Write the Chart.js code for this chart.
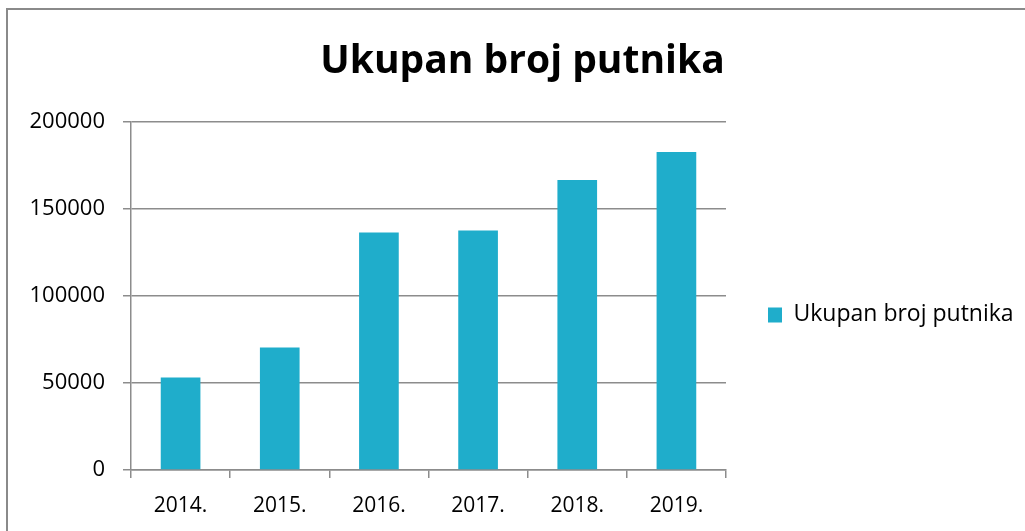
<!DOCTYPE html>
<html>
<head>
<meta charset="utf-8">
<script src="https://cdn.jsdelivr.net/npm/chart.js@4.4.1/dist/chart.umd.min.js"></script>
<style>
  html, body { margin: 0; padding: 0; background: #ffffff; }
  #wrap { position: relative; width: 1025px; height: 531px; overflow: hidden; }
  #frame { position: absolute; left: 6px; top: 8px; width: 1100px; height: 600px;
           border-left: 2px solid #8a8a8a; border-top: 2px solid #8a8a8a; }
  canvas { position: absolute; left: 0; top: 0; }
</style>
</head>
<body>
<div id="wrap">
  <div id="frame"></div>
  <canvas id="c" width="1025" height="531"></canvas>
</div>
<script>
const chartTitle = 'Ukupan broj putnika';
const categories = ['2014.', '2015.', '2016.', '2017.', '2018.', '2019.'];
const seriesName = 'Ukupan broj putnika';
const seriesValues = [53100, 70300, 136400, 137500, 166600, 182600];
const yTickValues = [0, 50000, 100000, 150000, 200000];

const FONT = "'Open Sans', 'DejaVu Sans', sans-serif";
const GRID = '#8c8c8c';

const layoutFix = {
  id: 'layoutFix',
  beforeLayout(chart) {
    const l = chart.legend;
    if (l && !l._fixed) {
      const f = l.fit.bind(l);
      l.fit = function () { f(); this.width = 290; };
      l._fixed = true;
    }
  },
  afterLayout(chart) {
    const l = chart.legend;
    if (l) { l.top += 19; l.bottom += 19; }
  }
};

new Chart(document.getElementById('c'), {
  type: 'bar',
  data: {
    labels: categories,
    datasets: [{
      label: seriesName,
      data: seriesValues,
      backgroundColor: '#1fadcb',
      borderWidth: 0,
      barPercentage: 0.4,
      categoryPercentage: 1.0
    }]
  },
  plugins: [layoutFix],
  options: {
    responsive: false,
    animation: false,
    devicePixelRatio: 1,
    layout: { padding: { left: 29, right: 9, top: 10, bottom: 0 } },
    plugins: {
      title: {
        display: true,
        text: chartTitle,
        color: '#000000',
        font: { family: FONT, size: 39, weight: 'bold', lineHeight: 1.2 },
        padding: { top: 28, bottom: 37 }
      },
      legend: {
        display: true,
        position: 'right',
        fullSize: false,
        maxWidth: 400,
        labels: {
          boxWidth: 14,
          boxHeight: 15,
          padding: 42,
          color: '#000000',
          font: { family: FONT, size: 23 }
        }
      },
      tooltip: { enabled: false }
    },
    scales: {
      x: {
        offset: true,
        afterFit(scale) { scale.height = 61; },
        grid: { display: true, offset: true, drawOnChartArea: false, drawTicks: true, tickLength: 8, color: GRID, lineWidth: 1.5 },
        border: { display: true, color: GRID, width: 1.5 },
        ticks: { color: '#000000', padding: 15, font: { family: FONT, size: 21 } }
      },
      y: {
        min: 0,
        max: 200000,
        afterFit(scale) { scale.width = 102; },
        afterBuildTicks(scale) { scale.ticks = yTickValues.map(v => ({ value: v })); },
        grid: { display: true, drawOnChartArea: true, drawTicks: true, tickLength: 8, color: GRID, lineWidth: 1.5 },
        border: { display: true, color: GRID, width: 1.5 },
        ticks: { color: '#000000', padding: 18, font: { family: FONT, size: 22 },
                 callback: (v) => String(v) }
      }
    }
  }
});
</script>
</body>
</html>
